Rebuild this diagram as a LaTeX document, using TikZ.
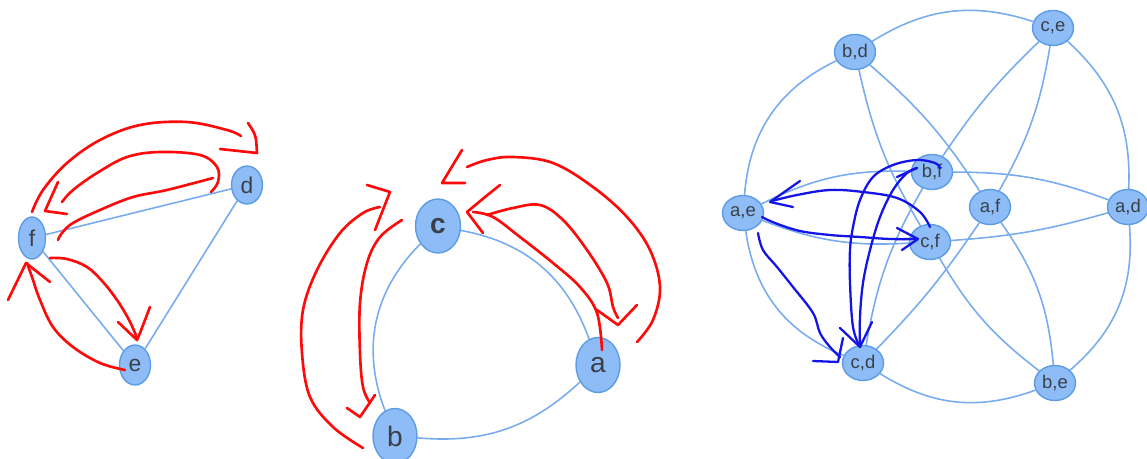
\documentclass[tikz,border=0pt]{standalone}
\usepackage{fontspec}
\setmainfont{Liberation Sans}
\usetikzlibrary{shapes.geometric,backgrounds}
\definecolor{nodefill}{HTML}{8EBCF6}
\definecolor{nodeline}{HTML}{5C9CE6}
\definecolor{edgecol}{HTML}{78ACEE}
\definecolor{txt}{HTML}{3A4048}
\definecolor{pen}{HTML}{FF0A0A}
\definecolor{bpen}{HTML}{1414E6}
\begin{document}
\begin{tikzpicture}[x=0.02cm,y=-0.02cm,
  vtx/.style={ellipse,draw=nodeline,fill=nodefill,line width=0.8pt,inner sep=0pt,text=txt},
  lv/.style={vtx,minimum width=0.62cm,minimum height=0.8cm,font=\fontsize{13}{13}\selectfont},
  mv/.style={vtx,minimum width=0.88cm,minimum height=1.1cm,font=\fontsize{16}{16}\selectfont},
  rv/.style={vtx,minimum width=0.82cm,minimum height=0.70cm,font=\fontsize{10.5}{10.5}\selectfont},
  edge/.style={draw=edgecol,line width=0.9pt},
  redpen/.style={draw=pen,line width=1.5pt,line cap=round,line join=round},
  bluepen/.style={draw=bpen,line width=1.3pt,line cap=round,line join=round}]
\useasboundingbox (0,0) rectangle (1147,459);
% ---------- left graph ----------
\node[lv,minimum width=0.54cm,minimum height=0.84cm] (f) at (32,238) {f};
\node[lv,minimum height=0.76cm] (d) at (247,185) {d};
\node[lv] (e) at (135,365) {e};
% ---------- middle graph ----------
\node[mv,font=\fontsize{16}{16}\selectfont\bfseries,minimum width=0.9cm,minimum height=1.08cm] (c) at (438,226) {c};
\node[mv] (a) at (598,365) {a};
\node[mv] (b) at (395,436) {b};
% ---------- right graph ----------
\node[rv] (bd) at (855,52) {b,d};
\node[rv] (ce) at (1053,28) {c,e};
\node[rv] (bf) at (932,172) {b,f};
\node[rv] (af) at (990,207) {a,f};
\node[rv] (ad) at (1128,207) {a,d};
\node[rv] (ae) at (743,213) {a,e};
\node[rv] (cf) at (930,242) {c,f};
\node[rv] (cd) at (863,363) {c,d};
\node[rv] (be) at (1055,383) {b,e};
\begin{scope}[on background layer]
  \draw[edge] (f) -- (d);
  \draw[edge] (f) -- (e);
  \draw[edge] (d) -- (e);
  \draw[edge] (c) to[bend left=30] (a);
  \draw[edge] (c) to[bend right=33] (b);
  \draw[edge] (b) to[bend right=24] (a);
  % outer ring
  \draw[edge] (bd) to[bend left=25] (ce);
  \draw[edge] (ce) to[bend left=25] (ad);
  \draw[edge] (ad) to[bend left=27] (be);
  \draw[edge] (be) to[bend left=26] (cd);
  \draw[edge] (cd) to[bend left=30] (ae);
  \draw[edge] (ae) to[bend left=30] (bd);
  % inner edges
  \draw[edge] (bd) to[bend right=9] (cf);
  \draw[edge] (bd) to[bend left=8] (af);
  \draw[edge] (ce) to[bend right=6] (bf);
  \draw[edge] (ce) to[bend left=10] (af);
  \draw[edge] (ae) to[bend left=14] (bf);
  \draw[edge] (bf) to[bend left=10] (ad);
  \draw[edge] (ae) to[bend right=12] (cf);
  \draw[edge] (cf) to[bend right=6] (ad);
  \draw[edge] (bf) to[bend right=10] (cd);
  \draw[edge] (af) to[bend left=5] (cd);
  \draw[edge] (af) to[bend left=15] (be);
  \draw[edge] (cf) to[bend right=11] (be);
\end{scope}
% ---------- red pen, left ----------
\draw[redpen] plot[smooth,tension=0.6] coordinates {(32,212) (43,190) (67,163) (100,140) (140,125) (187,122) (227,130) (241,136)};
\draw[redpen] (248,123) .. controls (256,135) .. (257,153) -- (220,149);
\draw[redpen] plot[smooth,tension=0.6] coordinates {(211,192) (218,182) (217,167) (200,155) (160,152) (127,157) (97,173) (73,190) (62,202)};
\draw[redpen] (58,182) -- (45,211) -- (67,214);
\draw[redpen] plot[smooth,tension=0.6] coordinates {(213,178) (167,190) (133,197) (100,210) (73,223) (62,233) (58,240)};
\draw[redpen] plot[smooth,tension=0.6] coordinates {(50,258) (67,259) (87,267) (103,282) (117,300) (128,318) (135,333) (137,340)};
\draw[redpen] (150,307) -- (140,333) -- (137,340) -- (118,322);
\draw[redpen] plot[smooth,tension=0.6] coordinates {(125,370) (100,363) (73,347) (53,327) (40,300) (32,277) (27,263)};
\draw[redpen] (8,300) -- (26,263) -- (50,282);
% ---------- red pen, middle ----------
\draw[redpen] plot[smooth,tension=0.6] coordinates {(637,342) (653,320) (660,287) (650,250) (627,217) (593,187) (553,163) (513,157) (487,160) (467,167)};
\draw[redpen] (462,150) -- (442,183) -- (465,183);
\draw[redpen] plot[smooth,tension=0.6] coordinates {(602,350) (597,313) (580,287) (553,263) (520,237) (493,217) (473,212)};
\draw[redpen] (500,185) .. controls (485,197) .. (467,212) -- (483,233);
\draw[redpen] plot[smooth,tension=0.6] coordinates {(487,215) (513,208) (540,205) (563,220) (587,250) (607,283) (613,307) (618,318)};
\draw[redpen] (597,310) -- (618,325) -- (637,305);
\draw[redpen] plot[smooth,tension=0.6] coordinates {(363,448) (333,427) (310,397) (302,353) (303,310) (317,270) (340,233) (363,213) (380,207)};
\draw[redpen] (367,185) -- (390,192) -- (375,230);
\draw[redpen] plot[smooth,tension=0.6] coordinates {(402,220) (380,237) (367,263) (360,303) (360,353) (363,387) (370,403)};
\draw[redpen] (347,408) -- (360,417) -- (375,395);
% ---------- blue pen, right ----------
\draw[bluepen] plot[smooth,tension=0.6] coordinates {(930,227) (920,212) (897,198) (863,192) (830,190) (797,195) (772,201)};
\draw[bluepen] (800,181) -- (770,202) -- (793,207);
\draw[bluepen] plot[smooth,tension=0.6] coordinates {(762,217) (775,223) (800,231) (830,235) (860,237) (890,239) (917,239)};
\draw[bluepen] (897,228) -- (918,239) -- (902,250);
\draw[bluepen] plot[smooth,tension=0.6] coordinates {(758,233) (763,250) (777,267) (793,287) (813,313) (820,333) (830,347) (840,357)};
\draw[bluepen] (843,338) -- (838,362) -- (813,361);
\draw[bluepen] plot[smooth,tension=0.6] coordinates {(860,347) (853,327) (850,283) (850,250) (853,227) (860,200) (873,177) (893,165) (917,160) (935,163) (940,168)};
\draw[bluepen] (840,328) -- (860,347) -- (872,322);
\draw[bluepen] plot[smooth,tension=0.6] coordinates {(860,347) (860,317) (863,283) (870,250) (880,217) (893,190) (907,173) (917,168)};
\draw[bluepen] (897,177) -- (917,168);
\end{tikzpicture}
\end{document}
